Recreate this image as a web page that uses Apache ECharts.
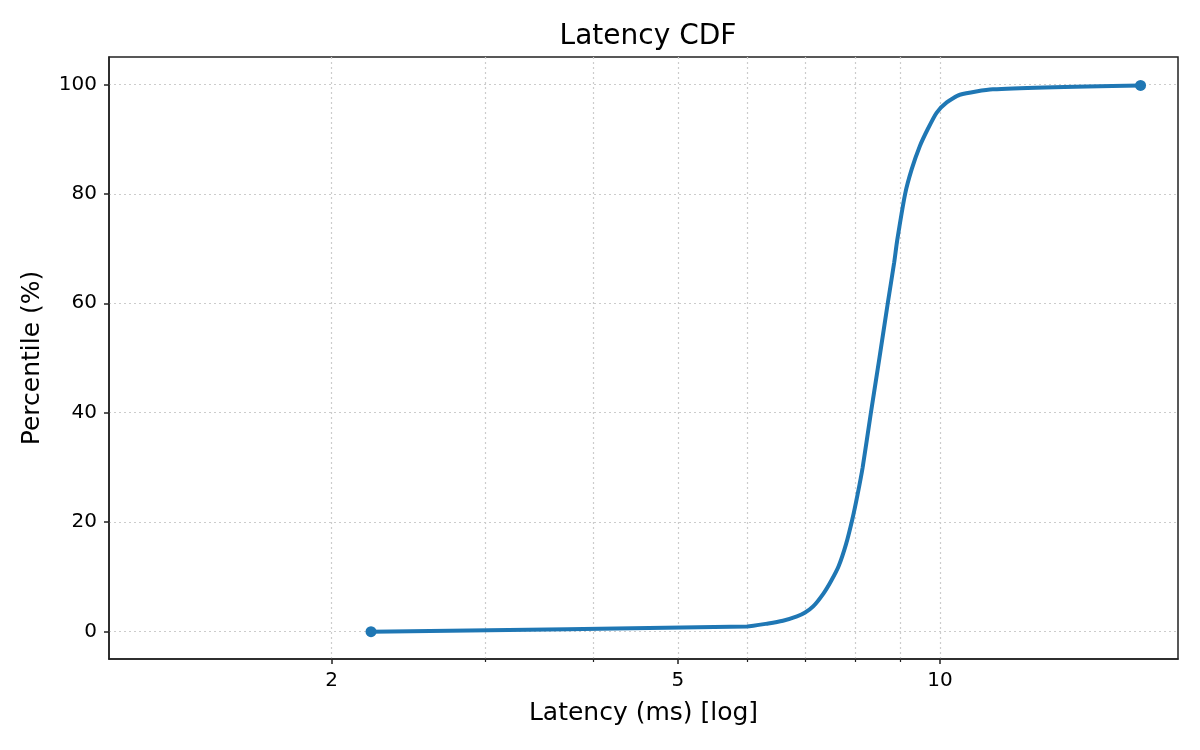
<!DOCTYPE html>
<html>
<head>
<meta charset="utf-8">
<title>Latency CDF</title>
<script src="https://cdn.jsdelivr.net/npm/echarts@6.0.0/dist/echarts.min.js"></script>
<style>
  html, body { margin: 0; padding: 0; background: #fff; }
  #main { width: 1200px; height: 750px; }
</style>
</head>
<body>
<div id="main"></div>
<script>
// latency (ms) and percentile
var latency = [2.22, 6.0, 6.35, 6.6, 6.85, 7.0, 7.15, 7.35, 7.5, 7.65, 7.8, 7.93, 8.04, 8.15, 8.33, 8.52, 8.71, 8.86, 8.93, 9.12, 9.28, 9.48, 9.68, 9.91, 10.18, 10.54, 11.5, 17.0];
var percentile = [0, 0.95, 1.5, 2.0, 2.8, 3.5, 4.6, 7.0, 9.3, 12, 16, 20.5, 25, 30, 40, 50, 60, 67.5, 71.5, 80, 84.5, 88.7, 91.8, 94.8, 96.7, 98.1, 99.1, 99.8];

// tick labels
var xMajor = [2, 5, 10];
var xMinor = [3, 4, 6, 7, 8, 9];
var yTicks = [0, 20, 40, 60, 80, 100];

var font = 'DejaVu Sans';
var frame = '#222222';
var gridLine = { show: true, lineStyle: { color: '#cccccc', width: 1.2, type: [2, 3] } };

var curve = latency.map(function (v, i) { return [v, percentile[i]]; });
var ends = [curve[0], curve[curve.length - 1]];

var chart = echarts.init(document.getElementById('main'));
var option = {
  animation: false,
  backgroundColor: '#ffffff',
  title: {
    text: 'Latency CDF',
    left: 643,
    top: 18,
    textAlign: 'center',
    textStyle: { fontFamily: font, fontSize: 28, fontWeight: 'normal', color: '#000' }
  },
  grid: {
    left: 109, right: 22, top: 57, bottom: 91,
    show: true, borderColor: frame, borderWidth: 1.5, backgroundColor: 'transparent'
  },
  xAxis: [
    {
      type: 'log', logBase: 10, min: 1.11, max: 18.77,
      name: 'Latency (ms) [log]', nameLocation: 'middle', nameGap: 42,
      nameTextStyle: { fontFamily: font, fontSize: 25, color: '#000' },
      axisLine: { show: true, onZero: false, lineStyle: { color: frame, width: 1.5 } },
      axisTick: { show: true, length: 5, customValues: xMajor, lineStyle: { color: frame, width: 1.5 } },
      axisLabel: { customValues: xMajor, margin: 12, fontFamily: font, fontSize: 20, color: '#000' },
      splitLine: gridLine
    },
    {
      type: 'log', logBase: 10, min: 1.11, max: 18.77, position: 'bottom',
      axisLine: { show: false, onZero: false },
      axisTick: { show: true, length: 3, customValues: xMinor, lineStyle: { color: frame, width: 1.2 } },
      axisLabel: { show: false, customValues: xMinor },
      splitLine: gridLine
    }
  ],
  yAxis: {
    type: 'value', min: -5, max: 105,
    name: 'Percentile (%)', nameLocation: 'middle', nameGap: 64,
    nameTextStyle: { fontFamily: font, fontSize: 25, color: '#000' },
    axisLine: { show: true, onZero: false, lineStyle: { color: frame, width: 1.5 } },
    axisTick: { show: true, length: 5, customValues: yTicks, lineStyle: { color: frame, width: 1.5 } },
    axisLabel: { customValues: yTicks, margin: 12, fontFamily: font, fontSize: 20, color: '#000' },
    splitLine: gridLine
  },
  series: [
    {
      name: 'CDF',
      type: 'line',
      xAxisIndex: 0,
      data: curve,
      showSymbol: false,
      smooth: 0.2,
      lineStyle: { color: '#1f77b4', width: 4 },
      z: 3
    },
    {
      name: 'ends',
      type: 'scatter',
      xAxisIndex: 0,
      data: ends,
      symbol: 'circle',
      symbolSize: 11,
      itemStyle: { color: '#1f77b4', opacity: 1 },
      z: 4
    }
  ]
};
chart.setOption(option);
</script>
</body>
</html>
